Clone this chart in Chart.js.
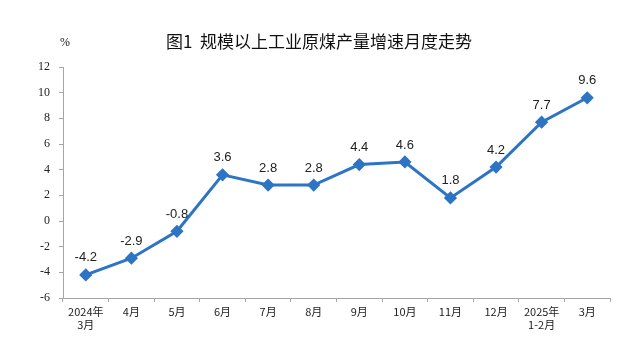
<!DOCTYPE html>
<html><head><meta charset="utf-8">
<script src="https://cdn.jsdelivr.net/npm/chart.js@4/dist/chart.umd.min.js"></script>
<style>html,body{margin:0;padding:0;background:#fff;}#wrap{width:640px;height:364px;position:relative;}</style>
</head><body><div id="wrap"><canvas id="c" width="640" height="364"></canvas></div>
<script>
const categories = [['2024年','3月'],'4月','5月','6月','7月','8月','9月','10月','11月','12月',['2025年','1-2月'],'3月'];
const growth = [-4.2,-2.9,-0.8,3.6,2.8,2.8,4.4,4.6,1.8,4.2,7.7,9.6];
const yTicks = [-6,-4,-2,0,2,4,6,8,10,12];
const titleText = '图1  规模以上工业原煤产量增速月度走势';
const unitText = '%';

const overlay = {
  id:'overlay',
  afterDraw(chart){
    const ctx = chart.ctx;
    ctx.save();
    ctx.fillStyle = '#111';
    ctx.font = '400 17px "Noto Sans CJK SC"';
    ctx.textAlign = 'center'; ctx.textBaseline = 'middle';
    ctx.fillText(titleText, 319, 42);
    ctx.font = '12px "Liberation Serif"';
    ctx.fillText(unitText, 65, 43);
    const meta = chart.getDatasetMeta(0);
    ctx.font = '13px "Liberation Sans"';
    ctx.fillStyle = '#222';
    meta.data.forEach((p,i)=>{
      ctx.fillText(growth[i].toFixed(1), p.x, p.y - 17);
    });
    ctx.restore();
  }
};

new Chart(document.getElementById('c'), {
  type:'line',
  data:{labels:categories, datasets:[{data:growth, borderColor:'#2E74C5', backgroundColor:'#2E74C5', borderWidth:3, pointStyle:'rectRot', pointRadius:4.5, pointHoverRadius:4.5, tension:0}]},
  options:{
    responsive:false, animation:false, devicePixelRatio:1,
    layout:{padding:{top:67,right:30,left:0,bottom:0}},
    plugins:{legend:{display:false}, tooltip:{enabled:false}},
    scales:{
      x:{offset:true,
        grid:{offset:true, drawOnChartArea:false, color:'#A6A6A6', tickLength:4, lineWidth:1},
        border:{color:'#A6A6A6', width:1},
        ticks:{color:'#222', font:{family:'"Noto Sans CJK SC"', size:11}, padding:3, maxRotation:0, autoSkip:false},
        afterFit(s){ s.height = 66; }
      },
      y:{min:-6, max:12,
        afterBuildTicks(s){ s.ticks = yTicks.map(v=>({value:v})); },
        grid:{drawOnChartArea:false, color:'#A6A6A6', tickLength:4},
        border:{color:'#A6A6A6', width:1},
        ticks:{color:'#222', font:{family:'"Liberation Serif"', size:12}, padding:9},
        afterFit(s){ s.width = 63; }
      }
    }
  },
  plugins:[overlay]
});
</script></body></html>
